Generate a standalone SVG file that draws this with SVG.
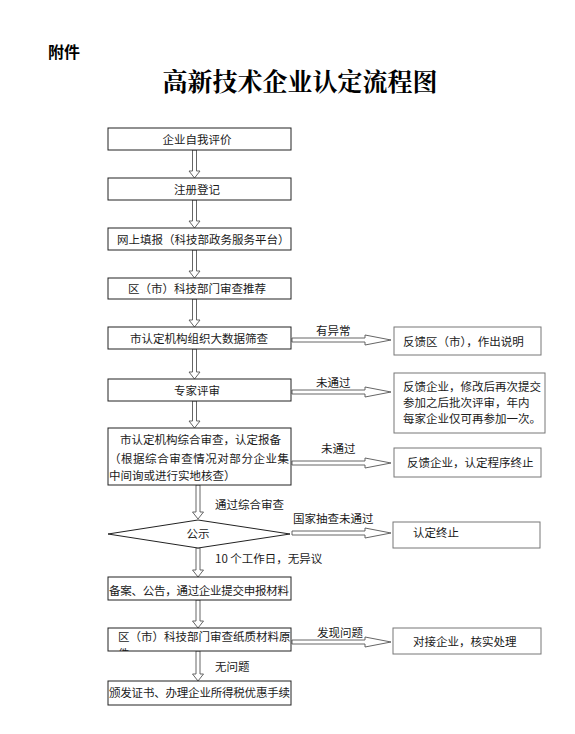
<svg xmlns="http://www.w3.org/2000/svg" width="575" height="734" viewBox="0 0 575 734">
<style>
  text { font-family: "Noto Sans CJK SC", "Liberation Sans", sans-serif; font-size: 11.5px; fill: #1a1a1a; }
  .c { text-anchor: middle; }
  .box { fill: #ffffff; stroke: #222; stroke-width: 1; }
  .rbox { fill: #ffffff; stroke: #777; stroke-width: 1; }
  .arr { fill: #ffffff; stroke: #555; stroke-width: 0.9; }
  .title { font-family: "Noto Serif CJK SC", "Noto Sans CJK SC", serif; font-size: 25px; font-weight: bold; fill: #000; }
  .att { font-size: 16px; font-weight: bold; fill: #000; }
</style>
<defs>
  <clipPath id="clip10"><rect x="108" y="628" width="183" height="23"/></clipPath>
</defs>
<rect width="575" height="734" fill="#ffffff"/>

<text class="att" x="48" y="58">附件</text>
<text class="title c" x="300" y="91">高新技术企业认定流程图</text>

<g id="connectors">
  <path class="arr" d="M192.5,150 V171 H189 L194.5,178 L200,171 H196.5 V150 Z"/>
  <path class="arr" d="M192.5,200 V221 H189 L194.5,228 L200,221 H196.5 V200 Z"/>
  <path class="arr" d="M192.5,250 V271 H189 L194.5,278 L200,271 H196.5 V250 Z"/>
  <path class="arr" d="M192.5,299 V320 H189 L194.5,327 L200,320 H196.5 V299 Z"/>
  <path class="arr" d="M192.5,349 V372 H189 L194.5,379 L200,372 H196.5 V349 Z"/>
  <path class="arr" d="M192.5,401 V421 H189 L194.5,428 L200,421 H196.5 V401 Z"/>
  <path class="arr" d="M196,485 V512 H192.5 L198,519 L203.5,512 H200 V485 Z"/>
  <path class="arr" d="M196,548 V570 H192.5 L198,577 L203.5,570 H200 V548 Z"/>
  <path class="arr" d="M196,600 V621 H192.5 L198,628 L203.5,621 H200 V600 Z"/>
  <path class="arr" d="M196,651 V674 H192.5 L198,681 L203.5,674 H200 V651 Z"/>

  <path class="arr" d="M292,338 H365 V335 L391,340 L365,345 V342 H292 Z"/>
  <path class="arr" d="M292,390 H365 V387 L391,392 L365,397 V394 H292 Z"/>
  <path class="arr" d="M292,461 H365 V458 L391,463 L365,468 V465 H292 Z"/>
  <path class="arr" d="M292,531 H365 V528 L391,533 L365,538 V535 H292 Z"/>
  <path class="arr" d="M292,640 H365 V637 L391,642 L365,647 V644 H292 Z"/>

  <text x="316" y="335">有异常</text>
  <text x="316" y="387">未通过</text>
  <text x="321" y="453">未通过</text>
  <text x="293" y="523">国家抽查未通过</text>
  <text x="317" y="637">发现问题</text>
  <text x="215" y="509">通过综合审查</text>
  <text x="215" y="563">10 个工作日，无异议</text>
  <text x="215" y="671">无问题</text>
</g>

<g id="n1"><rect class="box" x="108" y="128" width="183" height="22"/><text class="c" x="197" y="144">企业自我评价</text></g>
<g id="n2"><rect class="box" x="108" y="178" width="183" height="22"/><text class="c" x="197" y="194">注册登记</text></g>
<g id="n3"><rect class="box" x="108" y="228" width="183" height="22"/><text x="117" y="244">网上填报（科技部政务服务平台）</text></g>
<g id="n4"><rect class="box" x="108" y="278" width="183" height="21"/><text class="c" x="197" y="293">区（市）科技部门审查推荐</text></g>
<g id="n5"><rect class="box" x="108" y="327" width="183" height="22"/><text class="c" x="199" y="343">市认定机构组织大数据筛查</text></g>
<g id="n6"><rect class="box" x="108" y="379" width="183" height="22"/><text class="c" x="197" y="395">专家评审</text></g>
<g id="n7"><rect class="box" x="108" y="428" width="183" height="57"/>
  <text x="120" y="444">市认定机构综合审查，认定报备</text>
  <text x="109" y="463" textLength="180">（根据综合审查情况对部分企业集</text>
  <text x="109" y="480">中间询或进行实地核查）</text>
</g>
<g id="n8"><path class="box" d="M108,534 L198,520 L290,534 L198,548 Z"/><text class="c" x="198" y="538">公示</text></g>
<g id="n9"><rect class="box" x="108" y="577" width="183" height="23"/><text x="109" y="595" textLength="180">备案、公告，通过企业提交申报材料</text></g>
<g id="n10"><rect class="box" x="108" y="628" width="183" height="23"/>
  <g clip-path="url(#clip10)">
    <text x="118" y="641">区（市）科技部门审查纸质材料原</text>
    <text x="118" y="658">件</text>
  </g>
</g>
<g id="n11"><rect class="box" x="108" y="681" width="183" height="24"/><text x="109" y="697" textLength="181">颁发证书、办理企业所得税优惠手续</text></g>

<g id="r1"><rect class="rbox" x="394" y="327" width="147" height="28"/><text x="403" y="346">反馈区（市），作出说明</text></g>
<g id="r2"><rect class="rbox" x="394" y="373" width="151" height="60"/>
  <text x="403" y="391">反馈企业，修改后再次提交</text>
  <text x="403" y="407">参加之后批次评审，年内</text>
  <text x="403" y="423">每家企业仅可再参加一次。</text>
</g>
<g id="r3"><rect class="rbox" x="394" y="448" width="147" height="29"/><text x="407" y="467">反馈企业，认定程序终止</text></g>
<g id="r4"><rect class="rbox" x="393" y="522" width="147" height="26"/><text x="413" y="537">认定终止</text></g>
<g id="r5"><rect class="rbox" x="393" y="628" width="148" height="26"/><text x="413" y="646">对接企业，核实处理</text></g>
</svg>
